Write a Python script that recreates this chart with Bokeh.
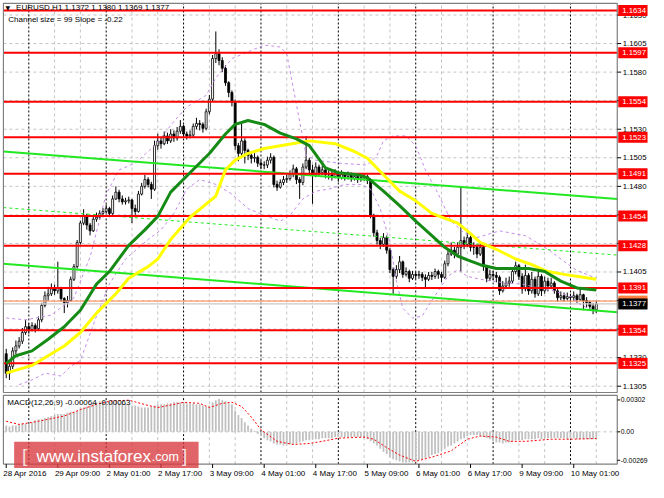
import datetime as dt
from bokeh.plotting import figure
from bokeh.models import Range1d, ColumnDataSource
from bokeh.embed import file_html
from bokeh.resources import INLINE
from bokeh.core.properties import value

# ---------------- data (EURUSD, H1) ----------------
symbol_line = "EURUSD,H1  1.1372 1.1380 1.1369 1.1377"
channel_line = "Channel size = 99 Slope = -0.22"
macd_line = "MACD(12,26,9) -0.00064 -0.00063"
first_bar_time = dt.datetime(2016, 4, 28, 17, 0)

first_open = 1.13334
closes = [
    1.13164, 1.13224, 1.13359, 1.13402, 1.13444, 1.13520, 1.13571, 1.13546, 1.13580, 1.13554,
    1.13631, 1.13758, 1.13842, 1.13859, 1.13902, 1.13885, 1.13910, 1.13817, 1.13783, 1.13800,
    1.13986, 1.14097, 1.14308, 1.14478, 1.14546, 1.14461, 1.14410, 1.14512, 1.14529, 1.14563,
    1.14580, 1.14605, 1.14563, 1.14690, 1.14749, 1.14690, 1.14664, 1.14673, 1.14681, 1.14605,
    1.14580, 1.14732, 1.14800, 1.14859, 1.14817, 1.14775, 1.15156, 1.15198, 1.15173, 1.15241,
    1.15198, 1.15258, 1.15224, 1.15283, 1.15325, 1.15258, 1.15241, 1.15249, 1.15325, 1.15351,
    1.15342, 1.15308, 1.15453, 1.15563, 1.15919, 1.15961, 1.15902, 1.15834, 1.15707, 1.15622,
    1.15537, 1.15156, 1.15088, 1.15198, 1.15114, 1.15071, 1.15046, 1.15054, 1.15003, 1.14986,
    1.14986, 1.15029, 1.15054, 1.14817, 1.14792, 1.14834, 1.14859, 1.14868, 1.14902, 1.14953,
    1.14859, 1.14834, 1.14969, 1.15029, 1.14944, 1.14902, 1.14969, 1.14919, 1.14944, 1.14902,
    1.14902, 1.14885, 1.14919, 1.14876, 1.14902, 1.14885, 1.14902, 1.14868, 1.14885, 1.14859,
    1.14876, 1.14885, 1.14851, 1.14546, 1.14393, 1.14325, 1.14292, 1.14351, 1.14241, 1.14071,
    1.14012, 1.14071, 1.14139, 1.14029, 1.14054, 1.13995, 1.14029, 1.14020, 1.14029, 1.14003,
    1.13986, 1.14020, 1.14012, 1.14054, 1.14029, 1.14003, 1.14122, 1.14207, 1.14241, 1.14207,
    1.14266, 1.14325, 1.14292, 1.14351, 1.14266, 1.14266, 1.14207, 1.14266, 1.14097, 1.13995,
    1.14029, 1.14020, 1.14003, 1.13885, 1.13927, 1.13953, 1.13970, 1.14054, 1.14105, 1.14012,
    1.13902, 1.14020, 1.13885, 1.13986, 1.13859, 1.14012, 1.13885, 1.13970, 1.13927, 1.13953,
    1.13885, 1.13825, 1.13842, 1.13817, 1.13834, 1.13825, 1.13842, 1.13808, 1.13851, 1.13800,
    1.13783, 1.13749, 1.13720, 1.13770,
]
highs = [
    1.13377, 1.13250, 1.13390, 1.13450, 1.13480, 1.13560, 1.13630, 1.13600, 1.13610, 1.13600,
    1.13660, 1.13780, 1.13880, 1.13920, 1.13950, 1.13940, 1.14140, 1.13920, 1.13830, 1.13840,
    1.14010, 1.14120, 1.14330, 1.14500, 1.14600, 1.14560, 1.14480, 1.14540, 1.14570, 1.14590,
    1.14610, 1.14640, 1.14620, 1.14720, 1.14800, 1.14770, 1.14720, 1.14700, 1.14710, 1.14690,
    1.14640, 1.14760, 1.14830, 1.14900, 1.14880, 1.14840, 1.15200, 1.15260, 1.15230, 1.15280,
    1.15270, 1.15300, 1.15290, 1.15320, 1.15380, 1.15340, 1.15280, 1.15290, 1.15350, 1.15400,
    1.15380, 1.15360, 1.15480, 1.15600, 1.15950, 1.16156, 1.16000, 1.15930, 1.15860, 1.15720,
    1.15640, 1.15560, 1.15180, 1.15368, 1.15220, 1.15130, 1.15100, 1.15090, 1.15070, 1.15030,
    1.15020, 1.15060, 1.15090, 1.15070, 1.14850, 1.14860, 1.14890, 1.14900, 1.14940, 1.14990,
    1.14970, 1.14880, 1.15000, 1.15241, 1.15050, 1.14990, 1.15010, 1.14990, 1.14980, 1.14960,
    1.14940, 1.14930, 1.14950, 1.14930, 1.14940, 1.14920, 1.14930, 1.14920, 1.14910, 1.14900,
    1.14900, 1.14910, 1.14900, 1.14870, 1.14560, 1.14420, 1.14350, 1.14390, 1.14370, 1.14260,
    1.14090, 1.14110, 1.14190, 1.14150, 1.14090, 1.14070, 1.14060, 1.14050, 1.14060, 1.14050,
    1.14030, 1.14050, 1.14050, 1.14080, 1.14070, 1.14050, 1.14150, 1.14240, 1.14309, 1.14270,
    1.14310, 1.14800, 1.14360, 1.14400, 1.14370, 1.14310, 1.14290, 1.14300, 1.14280, 1.14110,
    1.14070, 1.14060, 1.14050, 1.14020, 1.13970, 1.14000, 1.14010, 1.14090, 1.14140, 1.14120,
    1.14040, 1.14114, 1.14040, 1.14050, 1.14010, 1.14080, 1.14030, 1.14010, 1.14000, 1.14000,
    1.13970, 1.13900, 1.13880, 1.13870, 1.13870, 1.13860, 1.13880, 1.13860, 1.13910, 1.13860,
    1.13830, 1.13800, 1.13780, 1.13800,
]
lows = [
    1.13120, 1.13105, 1.13200, 1.13330, 1.13380, 1.13420, 1.13500, 1.13510, 1.13530, 1.13520,
    1.13540, 1.13610, 1.13740, 1.13800, 1.13840, 1.13850, 1.13860, 1.13790, 1.13690, 1.13740,
    1.13790, 1.13970, 1.14080, 1.14290, 1.14460, 1.14420, 1.14370, 1.14400, 1.14490, 1.14510,
    1.14530, 1.14560, 1.14530, 1.14550, 1.14680, 1.14660, 1.14640, 1.14640, 1.14650, 1.14478,
    1.14550, 1.14570, 1.14720, 1.14780, 1.14790, 1.14690, 1.14760, 1.15120, 1.15130, 1.15160,
    1.15170, 1.15180, 1.15190, 1.15200, 1.15260, 1.15230, 1.15210, 1.15220, 1.15230, 1.15300,
    1.15290, 1.15270, 1.15290, 1.15430, 1.15540, 1.15880, 1.15860, 1.15800, 1.15680, 1.15580,
    1.15500, 1.15120, 1.15020, 1.15060, 1.15000, 1.15030, 1.15000, 1.15010, 1.14970, 1.14950,
    1.14950, 1.14960, 1.15000, 1.14790, 1.14760, 1.14780, 1.14810, 1.14830, 1.14850, 1.14880,
    1.14820, 1.14690, 1.14810, 1.14950, 1.14900, 1.14647, 1.14880, 1.14890, 1.14900, 1.14870,
    1.14860, 1.14850, 1.14870, 1.14840, 1.14860, 1.14850, 1.14860, 1.14840, 1.14850, 1.14830,
    1.14840, 1.14850, 1.14820, 1.14520, 1.14360, 1.14290, 1.14250, 1.14270, 1.14210, 1.14040,
    1.13859, 1.13990, 1.14040, 1.14000, 1.14010, 1.13960, 1.13980, 1.13990, 1.13990, 1.13970,
    1.13910, 1.13970, 1.13980, 1.13990, 1.13990, 1.13960, 1.13990, 1.14100, 1.14190, 1.14170,
    1.14180, 1.14054, 1.14250, 1.14270, 1.14230, 1.14200, 1.14170, 1.14190, 1.14060, 1.13960,
    1.13970, 1.13980, 1.13960, 1.13850, 1.13870, 1.13900, 1.13920, 1.13950, 1.14030, 1.13980,
    1.13860, 1.13880, 1.13850, 1.13860, 1.13825, 1.13840, 1.13840, 1.13860, 1.13880, 1.13900,
    1.13860, 1.13790, 1.13800, 1.13790, 1.13800, 1.13790, 1.13800, 1.13780, 1.13800, 1.13715,
    1.13740, 1.13710, 1.13680, 1.13690,
]

# moving averages (vertices: bar index, price)
ma_green_bar = [0, 3, 8, 13, 18, 23, 28, 32, 38, 43, 47, 51, 57, 63, 68, 71, 75, 80, 85, 90, 94,
                99, 103, 109, 112, 117, 122, 127, 132, 136, 140, 143, 147, 152, 162, 167, 172, 177, 183]
ma_green_val = [1.13249, 1.13317, 1.13359, 1.13461, 1.13571, 1.13715, 1.13944, 1.14054, 1.14283,
                1.14419, 1.14537, 1.14749, 1.14919, 1.15088, 1.15258, 1.15342, 1.15376, 1.15342,
                1.15266, 1.15215, 1.15156, 1.14961, 1.14919, 1.14902, 1.14876, 1.14758, 1.14631,
                1.14495, 1.14368, 1.14266, 1.14190, 1.14156, 1.14114, 1.14080, 1.14080, 1.14054,
                1.13970, 1.13910, 1.13893]
ma_yellow_bar = [0, 8, 18, 23, 28, 34, 38, 44, 47, 51, 57, 65, 68, 71, 75, 80, 85, 94, 102, 108,
                 112, 117, 122, 127, 132, 140, 143, 147, 152, 158, 163, 168, 173, 183]
ma_yellow_val = [1.13164, 1.13232, 1.13402, 1.13520, 1.13690, 1.13859, 1.13995, 1.14097, 1.14164,
                 1.14334, 1.14529, 1.14715, 1.14944, 1.15029, 1.15088, 1.15131, 1.15156, 1.15198,
                 1.15173, 1.15105, 1.15046, 1.14902, 1.14758, 1.14673, 1.14563, 1.14478, 1.14410,
                 1.14309, 1.14249, 1.14164, 1.14114, 1.14054, 1.14029, 1.13986]

# bands (purple dashed)
band_up_bar = [0, 6, 14, 21, 26, 31, 35, 40, 46, 52, 56, 62, 65, 70, 75, 80, 85, 87, 89, 91, 93, 96,
               103, 112, 115, 117, 120, 124, 127, 130, 134, 138, 142, 146, 153, 161, 168, 174, 177, 183]
band_up_val = [1.13647, 1.13631, 1.13673, 1.13825, 1.14181, 1.14732, 1.14944, 1.15003, 1.15156,
               1.15368, 1.15495, 1.15597, 1.15749, 1.15919, 1.15978, 1.16037, 1.16020, 1.15961,
               1.15664, 1.15368, 1.15071, 1.15029, 1.15003, 1.14986, 1.15071, 1.15198, 1.15241,
               1.15241, 1.15156, 1.14944, 1.14732, 1.14495, 1.14393, 1.14351, 1.14410, 1.14368,
               1.14249, 1.14122, 1.14063, 1.13995]
band_dn_bar = [4, 8, 12, 17, 20, 23, 28, 32, 37, 44, 48, 52, 56, 60, 65, 70, 75, 80, 85, 88, 92, 96,
               100, 105, 110, 113, 116, 119, 121, 123, 126, 129, 131, 134, 137, 140, 143, 147, 151,
               155, 160, 165, 170, 175, 178, 183]
band_dn_val = [1.13063, 1.13105, 1.13164, 1.13139, 1.13224, 1.13275, 1.13664, 1.13944, 1.14164,
               1.14334, 1.14419, 1.14563, 1.14775, 1.14859, 1.14817, 1.14732, 1.14605, 1.14546,
               1.14495, 1.14546, 1.14690, 1.14758, 1.14775, 1.14817, 1.14817, 1.14775, 1.14605,
               1.14309, 1.13970, 1.13732, 1.13647, 1.13664, 1.13758, 1.13885, 1.14012, 1.14071,
               1.14012, 1.13986, 1.13970, 1.13953, 1.13944, 1.13910, 1.13885, 1.13834, 1.13766,
               1.13698]

# regression channel (anchor bars and prices)
chan_bar = [-0.9, 189.5]
chan_upper = [1.15104, 1.14690]
chan_mid = [1.14614, 1.14198]
chan_lower = [1.14122, 1.13698]

# support / resistance levels
levels = [1.1634, 1.1597, 1.1554, 1.1523, 1.1491, 1.1454, 1.1428, 1.1391, 1.1354, 1.1325]
level_labels = ["1.1634", "1.1597", "1.1554", "1.1523", "1.1491", "1.1454", "1.1428", "1.1391",
                "1.1354", "1.1325"]
bid_price, bid_label = 1.1377, "1.1377"
ask_price, ask_label = 1.13795, "1.1380"

price_ticks = [1.1305, 1.1330, 1.1355, 1.1380, 1.1405, 1.1430, 1.1455, 1.1480, 1.1505, 1.1530,
               1.1555, 1.1580, 1.1605, 1.1630]
price_tick_labels = ["1.1305", "1.1330", "1.1355", "1.1380", "1.1405", "1.1430", "1.1455", "1.1480",
                     "1.1505", "1.1530", "1.1555", "1.1580", "1.1605", "1.1630"]

macd_hist = (
    [0.0006, 0.0005, 0.0006, 0.0006]
    + [0.0007, 0.0008, 0.0008, 0.0008, 0.0009]
    + [0.0011, 0.0012, 0.0012]
    + [0.0013, 0.0014, 0.0015]
    + [0.0016, 0.0017, 0.0017, 0.0017]
    + [0.0018, 0.0019, 0.0019, 0.0020]
    + [0.0022, 0.0023, 0.0024, 0.0025]
    + [0.0027, 0.0028, 0.0029]
    + [0.0029, 0.0029, 0.0028, 0.0028, 0.0028, 0.0027, 0.0027, 0.0026, 0.0026, 0.0025, 0.0025]
    + [0.0024, 0.0023, 0.0023, 0.0023, 0.0024]
    + [0.0025, 0.0026, 0.0026, 0.0026, 0.0027]
    + [0.0027, 0.0028, 0.0028, 0.0028, 0.0028]
    + [0.0027, 0.0027, 0.0027, 0.0026, 0.0026]
    + [0.0025, 0.0024, 0.0025]
    + [0.0028, 0.0030, 0.0031, 0.0030]
    + [0.0029, 0.0027, 0.0026]
    + [0.0020, 0.0016, 0.0013]
    + [0.0009, 0.0006, 0.0003]
    + [0.0001, -0.0002, -0.0004]
    + [-0.0006, -0.0008, -0.0009, -0.0011]
    + [-0.0012, -0.0012, -0.0013, -0.0012, -0.0012, -0.0012, -0.0011]
    + [-0.0010, -0.0009, -0.0008, -0.0008, -0.0007, -0.0007]
    + [-0.0007, -0.0006, -0.0006, -0.0006, -0.0006, -0.0005, -0.0005, -0.0005, -0.0005, -0.0005,
       -0.0005, -0.0005, -0.0005, -0.0005]
    + [-0.0006, -0.0007, -0.0009]
    + [-0.0011, -0.0013, -0.0016, -0.0019, -0.0021]
    + [-0.0024, -0.0026, -0.0027]
    + [-0.0028, -0.0029, -0.0029, -0.0029, -0.0029, -0.0028]
    + [-0.0027, -0.0026, -0.0025, -0.0024]
    + [-0.0022, -0.0021, -0.0020, -0.0018]
    + [-0.0016, -0.0014, -0.0013, -0.0011]
    + [-0.0009, -0.0007, -0.0006, -0.0004]
    + [-0.0003, -0.0003, -0.0003, -0.0004]
    + [-0.0005, -0.0006, -0.0007]
    + [-0.0009, -0.0010, -0.0010, -0.0011, -0.0010, -0.0010]
    + [-0.0009, -0.0008, -0.0008, -0.0008]
    + [-0.0007, -0.0007, -0.0007, -0.0007, -0.0006, -0.0007, -0.0006, -0.0006, -0.0006, -0.0006]
    + [-0.0006, -0.0006, -0.0006, -0.0007, -0.0007, -0.0006, -0.0007, -0.0007, -0.0007, -0.0007,
       -0.0007, -0.0007, -0.00064]
)
signal_bar = [0, 4, 10, 18, 23, 28, 32, 38, 44, 47, 52, 55, 60, 63, 67, 70, 73, 76, 79, 84, 89, 94,
              98, 103, 111, 114, 118, 122, 127, 132, 138, 143, 147, 152, 156, 161, 169, 175, 183]
signal_val = [0.0010, 0.0007, 0.0010, 0.0015, 0.0021, 0.0026, 0.0029, 0.0030, 0.0025, 0.0023,
              0.0026, 0.0028, 0.0027, 0.0023, 0.0027, 0.0028, 0.0024, 0.0014, 0.0002, -0.0009,
              -0.0012, -0.0011, -0.0009, -0.0006, -0.0005, -0.0007, -0.0015, -0.0022, -0.0028,
              -0.0024, -0.0018, -0.0007, -0.0004, -0.0005, -0.0009, -0.0009, -0.0007, -0.0007,
              -0.00063]
macd_ticks = [0.00302, 0.0, -0.00269]
macd_tick_labels = ["0.00302", "0.00", "-0.00269"]

# ---------------- layout helpers (reference 664x498 pixel -> data) ----------------
W, H = 648, 482
REF_W, REF_H = 664, 498
SX = W / REF_W


def bx(X):
    return (X - 5.87) / 3.304


def py(Y):
    return 1.1630 - (Y - 15) / 11800.0


def my(Y):
    return (445.65 - Y) * 9.165e-5


FONT = value("Liberation Sans")
n = len(closes)

# bar times (no weekend bars)
times = []
t = first_bar_time
while len(times) < n:
    if t.weekday() < 5:
        times.append(t)
    t += dt.timedelta(hours=1)

p = figure(width=W, height=H, x_range=Range1d(bx(0), bx(REF_W)),
           y_range=Range1d(py(REF_H), py(0)), output_backend="svg",
           toolbar_location=None, min_border=0, x_axis_location=None, y_axis_location=None)
p.extra_y_ranges = {"macd": Range1d(my(REF_H), my(0))}
p.grid.visible = False
p.outline_line_color = None
p.background_fill_color = "white"
p.border_fill_color = "white"

L, R = bx(3), bx(632)
M_TOP, M_BOT = py(3), py(405)
D_TOP, D_BOT = my(408), my(479)

# grid
p.segment(x0=L, x1=R, y0=price_ticks, y1=price_ticks, line_color="#c4c4c4",
          line_dash="3 3", line_width=1)
grid_bars = [i for i, tt in enumerate(times) if tt.hour % 8 == 0 and tt.hour != 0]
sep_bars = [i for i, tt in enumerate(times) if tt.hour == 0]
for rng, y0, y1 in ((None, M_BOT, M_TOP), ("macd", D_BOT, D_TOP)):
    kw = {"y_range_name": rng} if rng else {}
    p.segment(x0=grid_bars, x1=grid_bars, y0=y0, y1=y1, line_color="#c4c4c4",
              line_dash="3 3", line_width=1, **kw)
    p.segment(x0=sep_bars, x1=sep_bars, y0=y0, y1=y1, line_color="#000000",
              line_dash="2 2", line_width=1, **kw)
p.segment(x0=L, x1=R, y0=0.0, y1=0.0, line_color="#c4c4c4", line_dash="3 3",
          y_range_name="macd")

# MACD
p.vbar(x=list(range(n)), top=macd_hist, bottom=0.0, width=0.55, fill_color="#c0c0c0",
       line_color=None, y_range_name="macd")
p.line(signal_bar, signal_val, line_color="#ff0000", line_dash="2 2", line_width=1,
       y_range_name="macd")

# candles
opens = [first_open] + closes[:-1]
src = ColumnDataSource(dict(
    x=list(range(n)), h=highs, l=lows,
    top=[max(o, c) for o, c in zip(opens, closes)],
    bot=[min(o, c) for o, c in zip(opens, closes)],
    fill=["white" if c >= o else "black" for o, c in zip(opens, closes)],
))
p.segment(x0="x", x1="x", y0="l", y1="h", source=src, line_color="#000000", line_width=1)
p.vbar(x="x", width=0.62, top="top", bottom="bot", source=src, fill_color="fill",
       line_color="#000000", line_width=0.8)

# bid / ask lines
p.segment(x0=L, x1=R, y0=ask_price, y1=ask_price, line_color="#ff9a6a", line_width=1.2)
p.segment(x0=L, x1=R, y0=bid_price, y1=bid_price, line_color="#c8c8c8", line_width=1.2)

# bands
p.line(band_up_bar, band_up_val, line_color="#c48ce8", line_dash="3 3", line_width=1)
p.line(band_dn_bar, band_dn_val, line_color="#c48ce8", line_dash="3 3", line_width=1)

# channel
p.line(chan_bar, chan_upper, line_color="#22e822", line_width=2)
p.line(chan_bar, chan_lower, line_color="#22e822", line_width=2)
p.line(chan_bar, chan_mid, line_color="#22e822", line_dash="3 3", line_width=1)

# levels
p.segment(x0=L, x1=R, y0=levels, y1=levels, line_color="#ff0000", line_width=2)

# moving averages
p.line(ma_yellow_bar, ma_yellow_val, line_color="#ffff00", line_width=3)
p.line(ma_green_bar, ma_green_val, line_color="#158a15", line_width=3)

# pane borders
p.quad(left=L, right=R, bottom=M_BOT, top=M_TOP, fill_color=None, line_color="#808080",
       line_width=1.2)
p.quad(left=L, right=R, bottom=D_BOT, top=D_TOP, fill_color=None, line_color="#808080",
       line_width=1.2, y_range_name="macd")

# price axis
p.segment(x0=R, x1=bx(636), y0=price_ticks, y1=price_ticks, line_color="black")
p.text(x=bx(637.5), y=price_ticks, text=price_tick_labels, text_font=FONT,
       text_font_size="7.8px", text_baseline="middle", text_align="left", text_color="black")
p.rect(x=bx(648), y=levels, width=30 * SX, height=11, width_units="screen",
       height_units="screen", fill_color="#ff0000", line_color=None)
p.text(x=bx(637), y=levels, text=level_labels, text_font=FONT, text_font_size="7.8px",
       text_baseline="middle", text_align="left", text_color="white")
p.rect(x=bx(648), y=ask_price, width=30 * SX, height=11, width_units="screen",
       height_units="screen", fill_color="#ff8040", line_color=None)
p.rect(x=bx(648), y=bid_price, width=30 * SX, height=11, width_units="screen",
       height_units="screen", fill_color="#000000", line_color=None)
p.text(x=bx(637), y=[bid_price], text=[bid_label], text_font=FONT, text_font_size="7.8px",
       text_baseline="middle", text_align="left", text_color="white")

# MACD axis
p.segment(x0=R, x1=bx(635), y0=macd_ticks, y1=macd_ticks, line_color="black",
          y_range_name="macd")
p.text(x=bx(635.5), y=macd_ticks, text=macd_tick_labels, text_font=FONT, text_font_size="6.8px",
       text_baseline="middle", text_align="left", text_color="black", y_range_name="macd")

# time axis
lab_bars = list(range(0, n, 16))
lab_text = []
for i in lab_bars:
    tt = times[i]
    if i == 0:
        lab_text.append(f"{tt.day} {tt.strftime('%b')} {tt.year}")
    else:
        lab_text.append(f"{tt.day} {tt.strftime('%b')} {tt.strftime('%H:%M')}")
p.segment(x0=lab_bars, x1=lab_bars, y0=D_BOT, y1=my(483), line_color="black",
          y_range_name="macd")
p.text(x=[b - 0.9 for b in lab_bars], y=my(489), text=lab_text, text_font=FONT,
       text_font_size="8px", text_baseline="middle", text_align="left", text_color="black",
       y_range_name="macd")

# header texts
p.text(x=[bx(5)], y=[py(7)], text=["▼"], text_font=value("DejaVu Sans"),
       text_font_size="6px", text_baseline="middle", text_align="left", text_color="black")
p.text(x=[bx(16)], y=[py(7.5)], text=[symbol_line], text_font=FONT, text_font_size="8px",
       text_baseline="middle", text_align="left", text_color="black")
p.text(x=[bx(8)], y=[py(19.5)], text=[channel_line], text_font=FONT, text_font_size="8px",
       text_baseline="middle", text_align="left", text_color="black")
p.text(x=[bx(7)], y=[my(415)], text=[macd_line], text_font=FONT, text_font_size="8px",
       text_baseline="middle", text_align="left", text_color="black", y_range_name="macd")

# watermark
p.quad(left=bx(14), right=bx(203), bottom=my(483), top=my(456), fill_color="#d93a3e",
       fill_alpha=0.78, line_color=None, y_range_name="macd")
p.text(x=[bx(22)], y=[my(470)], text=["["], text_font=FONT, text_font_size="19px",
       text_baseline="middle", text_align="left", text_color="#f6dede", y_range_name="macd")
p.text(x=[bx(37)], y=[my(471)], text=["www.instaforex"], text_font=FONT,
       text_font_size="17px", text_baseline="middle", text_align="left", text_color="white",
       y_range_name="macd")
p.text(x=[bx(155)], y=[my(472)], text=[".com"], text_font=FONT, text_font_size="12.5px",
       text_baseline="middle", text_align="left", text_color="white", y_range_name="macd")
p.text(x=[bx(186)], y=[my(470)], text=["]"], text_font=FONT, text_font_size="19px",
       text_baseline="middle", text_align="left", text_color="#f6dede", y_range_name="macd")

open("out.html", "w").write(file_html(p, INLINE))
